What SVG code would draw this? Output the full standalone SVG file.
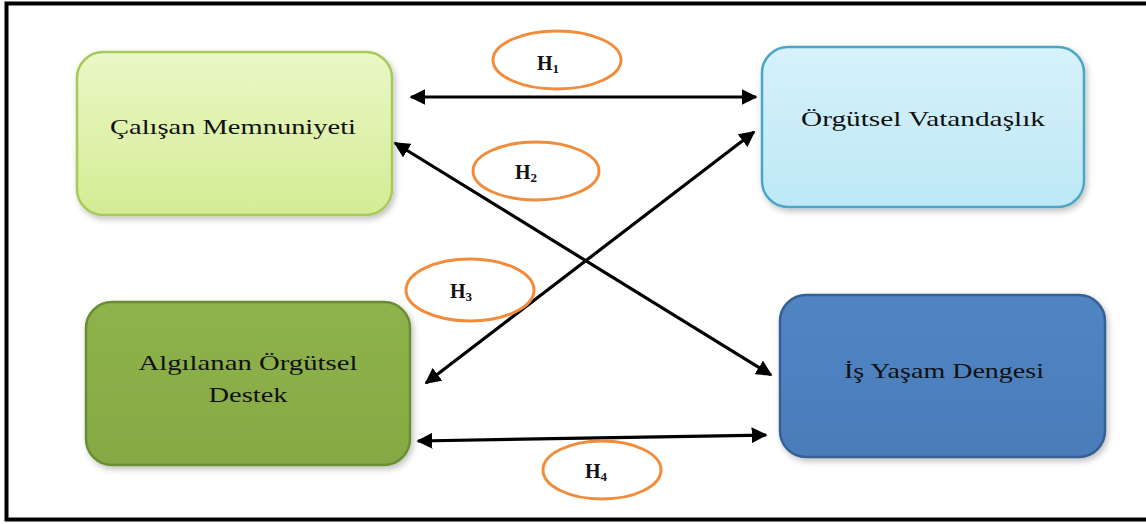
<svg xmlns="http://www.w3.org/2000/svg" width="1146" height="524" viewBox="0 0 1146 524">
<defs>
<style>
.lbl{font-family:"Liberation Serif","Times New Roman",serif;font-size:21px;fill:#111;text-anchor:middle}
.h{font-family:"Liberation Serif","Times New Roman",serif;font-size:20px;font-weight:bold;fill:#111}
.sub{font-size:13px}
.conn{stroke:#000;stroke-width:3.2;fill:none;marker-start:url(#ah);marker-end:url(#ah)}
.ell{fill:none;stroke:#f28c3a;stroke-width:3}
.box{stroke-width:2.5}
</style>
<marker id="ah" viewBox="0 0 10 10" refX="9" refY="5" markerWidth="5" markerHeight="5" orient="auto-start-reverse" markerUnits="strokeWidth">
<path d="M0,0 L10,5 L0,10 z" fill="#000"/>
</marker>
<linearGradient id="g1" x1="0" y1="0" x2="0" y2="1"><stop offset="0" stop-color="#eaf8c6"/><stop offset="1" stop-color="#d3ec93"/></linearGradient>
<linearGradient id="g2" x1="0" y1="0" x2="0" y2="1"><stop offset="0" stop-color="#d6f2fb"/><stop offset="1" stop-color="#bde8f6"/></linearGradient>
<linearGradient id="g3" x1="0" y1="0" x2="0" y2="1"><stop offset="0" stop-color="#8fb34c"/><stop offset="1" stop-color="#86a944"/></linearGradient>
<linearGradient id="g4" x1="0" y1="0" x2="0" y2="1"><stop offset="0" stop-color="#5085c4"/><stop offset="1" stop-color="#4a7cb9"/></linearGradient>
<filter id="sh" x="-10%" y="-10%" width="125%" height="130%"><feDropShadow dx="2" dy="3" stdDeviation="3" flood-color="#000" flood-opacity="0.25"/></filter>
</defs>
<rect x="6.5" y="3.5" width="1142" height="516" fill="#fff" stroke="#000" stroke-width="4"/>
<g id="node-calisan">
<rect class="box" x="77" y="52" width="315" height="163" rx="26" fill="url(#g1)" stroke="#a6c95a" filter="url(#sh)"/>
<text class="lbl" x="233" y="134" textLength="246" lengthAdjust="spacingAndGlyphs">Çalışan Memnuniyeti</text>
</g>
<g id="node-vatandaslik">
<rect class="box" x="762" y="47" width="322" height="160" rx="26" fill="url(#g2)" stroke="#4aa6c6" filter="url(#sh)"/>
<text class="lbl" x="923" y="126" textLength="244" lengthAdjust="spacingAndGlyphs">Örgütsel Vatandaşlık</text>
</g>
<g id="node-destek">
<rect class="box" x="86" y="302" width="324" height="163" rx="26" fill="url(#g3)" stroke="#6a8c33" filter="url(#sh)"/>
<text class="lbl" x="248" y="370" textLength="219" lengthAdjust="spacingAndGlyphs">Algılanan Örgütsel</text>
<text class="lbl" x="248" y="402" textLength="79" lengthAdjust="spacingAndGlyphs">Destek</text>
</g>
<g id="node-denge">
<rect class="box" x="780" y="295" width="325" height="162" rx="26" fill="url(#g4)" stroke="#375f91" filter="url(#sh)"/>
<text class="lbl" x="944" y="378" textLength="200" lengthAdjust="spacingAndGlyphs">İş Yaşam Dengesi</text>
</g>
<g id="connectors">
<line class="conn" x1="411" y1="97" x2="756" y2="97"/>
<line class="conn" x1="395" y1="143" x2="771" y2="375"/>
<line class="conn" x1="754" y1="132" x2="426" y2="383"/>
<line class="conn" x1="418" y1="441" x2="766" y2="435"/>
</g>
<g id="labels">
<ellipse class="ell" cx="557" cy="60" rx="64" ry="29"/>
<text class="h" x="537" y="70">H<tspan class="sub" dy="3">1</tspan></text>
<ellipse class="ell" cx="536" cy="171" rx="63" ry="29"/>
<text class="h" x="515" y="179">H<tspan class="sub" dy="3">2</tspan></text>
<ellipse class="ell" cx="470" cy="290" rx="64" ry="31"/>
<text class="h" x="450" y="298">H<tspan class="sub" dy="3">3</tspan></text>
<ellipse class="ell" cx="602" cy="470" rx="59" ry="29"/>
<text class="h" x="585" y="478">H<tspan class="sub" dy="3">4</tspan></text>
</g>
</svg>
